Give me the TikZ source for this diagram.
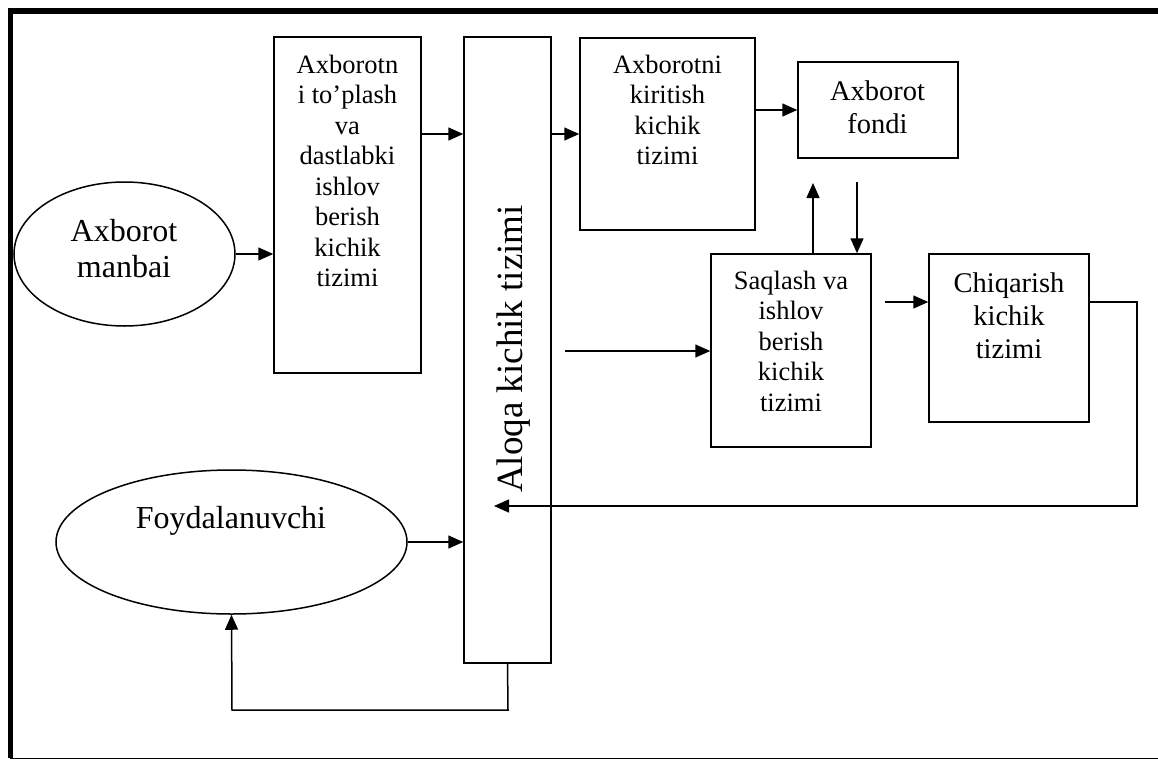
\documentclass[tikz,border=0pt]{standalone}
\usepackage{fontspec}
\setmainfont{Liberation Serif}
\usetikzlibrary{arrows.meta,shapes.geometric}
\tikzset{
  boxst/.style={draw,line width=1.5pt,rectangle,inner sep=0pt,minimum width=#1},
  ellst/.style={draw,line width=1.5pt,ellipse,inner sep=0pt},
  txtst/.style={anchor=north,inner sep=0pt,align=center},
  smalltxt/.style={font=\fontsize{26.5}{30.5}\selectfont},
  midtxt/.style={font=\fontsize{28.5}{33.3}\selectfont},
  bigtxt/.style={font=\fontsize{32}{36}\selectfont},
  conn/.style={line width=1.5pt,-{Triangle[length=15pt,width=13pt]}},
  plainconn/.style={line width=1.5pt},
}
\begin{document}
\begin{tikzpicture}[x=1pt,y=-1pt]
\useasboundingbox (0,0) rectangle (1158,760);
% outer frame (partly cropped)
\draw[line width=5.5pt] (8,11) -- (1158,11);
\draw[line width=5.5pt] (10.5,8) -- (10.5,758);
\draw[line width=1.6pt] (10,758.5) -- (1158,758.5);

% ellipses
\node[ellst,minimum width=221pt,minimum height=144pt] (manbai) at (124.5,254) {};
\node[txtst,bigtxt] (manbaitxt) at (124,219) {Axborot\\manbai};
\node[ellst,minimum width=351pt,minimum height=144pt] (foyd) at (231.5,542) {};
\node[txtst,bigtxt] (foydtxt) at (231,506) {Foydalanuvchi};

% boxes
\node[boxst=147pt,minimum height=336pt] (box1) at (347.5,205) {};
\node[txtst,smalltxt] (box1txt) at (347.5,54.7) {Axborotn\\i to’plash\\va\\dastlabki\\ishlov\\berish\\kichik\\tizimi};

\node[boxst=87pt,minimum height=626pt] (aloqa) at (507.5,350) {};
\node[anchor=base west,inner sep=0pt,rotate=90,font=\fontsize{37}{40}\selectfont] (aloqatxt) at (522,493) {Aloqa kichik tizimi};

\node[boxst=175pt,minimum height=192pt] (box3) at (667.5,134) {};
\node[txtst,smalltxt] (box3txt) at (667.5,54.7) {Axborotni\\kiritish\\kichik\\tizimi};

\node[boxst=160pt,minimum height=96pt] (fondi) at (878,110) {};
\node[txtst,midtxt] (fonditxt) at (877.5,80.3) {Axborot\\fondi};

\node[boxst=160pt,minimum height=193pt] (saqlash) at (791,350.5) {};
\node[txtst,smalltxt] (saqlashtxt) at (791,270.7) {Saqlash va\\ishlov\\berish\\kichik\\tizimi};

\node[boxst=160pt,minimum height=168pt] (chiq) at (1009,338) {};
\node[txtst,midtxt] (chiqtxt) at (1009,272.3) {Chiqarish\\kichik\\tizimi};

% free ends
\coordinate (upend) at (813,183);
\coordinate (downstart) at (857,182);
\coordinate (midstart) at (565,351);
\coordinate (chiqstart) at (885,302);
\coordinate (rettip) at (494,506);

% connectors
\draw[conn] (manbai.east) -- (manbai.east -| box1.west);
\draw[conn] (box1.east |- 0,134) -- (aloqa.west |- 0,134);
\draw[conn] (aloqa.east |- 0,134) -- (box3.west |- 0,134);
\draw[conn] (box3.east |- 0,110) -- (fondi.west |- 0,110);
\draw[conn] (saqlash.north -| upend) -- (upend);
\draw[conn] (downstart) -- (saqlash.north -| downstart);
\draw[conn] (midstart) -- (midstart -| saqlash.west);
\draw[conn] (chiqstart) -- (chiqstart -| chiq.west);
\draw[conn] (chiq.east |- chiqstart) -- (1137,302) -- (1137,506) -- (rettip);
\draw[conn] (foyd.east) -- (foyd.east -| aloqa.west);
\draw[conn] (aloqa.south) -- (508,710) -- (232,710) -- (foyd.south);
\end{tikzpicture}
\end{document}
